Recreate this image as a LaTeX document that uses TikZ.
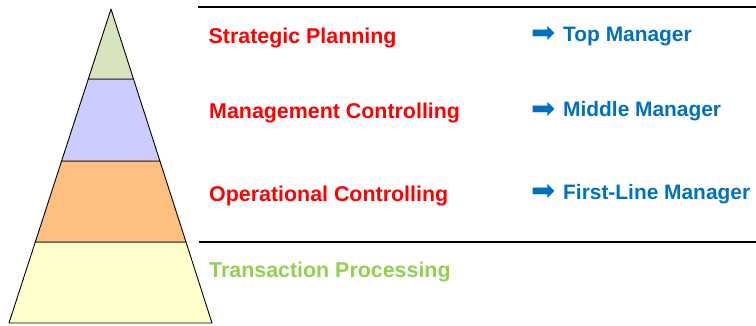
\documentclass[tikz,border=0pt]{standalone}
\usepackage{fontspec}
\setmainfont{Liberation Sans}
\newfontfamily\arrowfont{DejaVu Sans}
\definecolor{lvlred}{HTML}{FF0000}
\definecolor{lvlblue}{HTML}{0070C0}
\definecolor{lvlgreen}{HTML}{92D050}
\definecolor{fillA}{HTML}{D7E4BD}
\definecolor{fillB}{HTML}{CCCCFF}
\definecolor{fillC}{HTML}{FFBF80}
\definecolor{fillD}{HTML}{FFFFCC}
\tikzset{
  layer/.style={draw=black, line width=0.9pt, line join=round},
  sepline/.style={draw=black, line width=2pt},
  lvltext/.style={anchor=base west, inner sep=0pt, font=\fontsize{21.4}{24}\selectfont\bfseries, text=lvlred},
  roletext/.style={anchor=base west, inner sep=0pt, font=\fontsize{20.9}{24}\selectfont\bfseries, text=lvlblue},
  rolearrow/.style={anchor=center, inner sep=0pt, font=\arrowfont\fontsize{29}{30}\selectfont, text=lvlblue},
}
\begin{document}
\begin{tikzpicture}[x=1pt,y=-1pt]
\useasboundingbox (0,0) rectangle (756,325);
% pyramid layers
\path[layer, fill=fillD] (35.3,242) -- (186.0,242) -- (212,323) -- (9,323) -- cycle;
\path[layer, fill=fillC] (61.6,161) -- (159.9,161) -- (186.0,242) -- (35.3,242) -- cycle;
\path[layer, fill=fillB] (88.3,79) -- (133.5,79) -- (159.9,161) -- (61.6,161) -- cycle;
\path[layer, fill=fillA] (111,9) -- (133.5,79) -- (88.3,79) -- cycle;
% separator lines
\coordinate (t1) at (198,7);
\coordinate (t2) at (756,7);
\coordinate (b1) at (199,242);
\coordinate (b2) at (756,242);
\draw[sepline] (t1) -- (t2);
\draw[sepline] (b1) -- (b2);
% level texts
\node[lvltext] (sp) at (208.5,43) {Strategic Planning};
\node[lvltext] (mc) at (209,118.5) {Management Controlling};
\node[lvltext] (oc) at (209,201) {Operational Controlling};
\node[lvltext, text=lvlgreen] (tp) at (209,277) {Transaction Processing};
% roles
\node[rolearrow] (ta) at (544,34.5) {➡};
\node[roletext] (tm) at (563,41) {Top Manager};
\node[rolearrow] (ma) at (544,110) {➡};
\node[roletext] (mm) at (563,116.5) {Middle Manager};
\node[rolearrow] (fa) at (544,192.5) {➡};
\node[roletext] (fm) at (563,199) {First-Line Manager};
\end{tikzpicture}
\end{document}
